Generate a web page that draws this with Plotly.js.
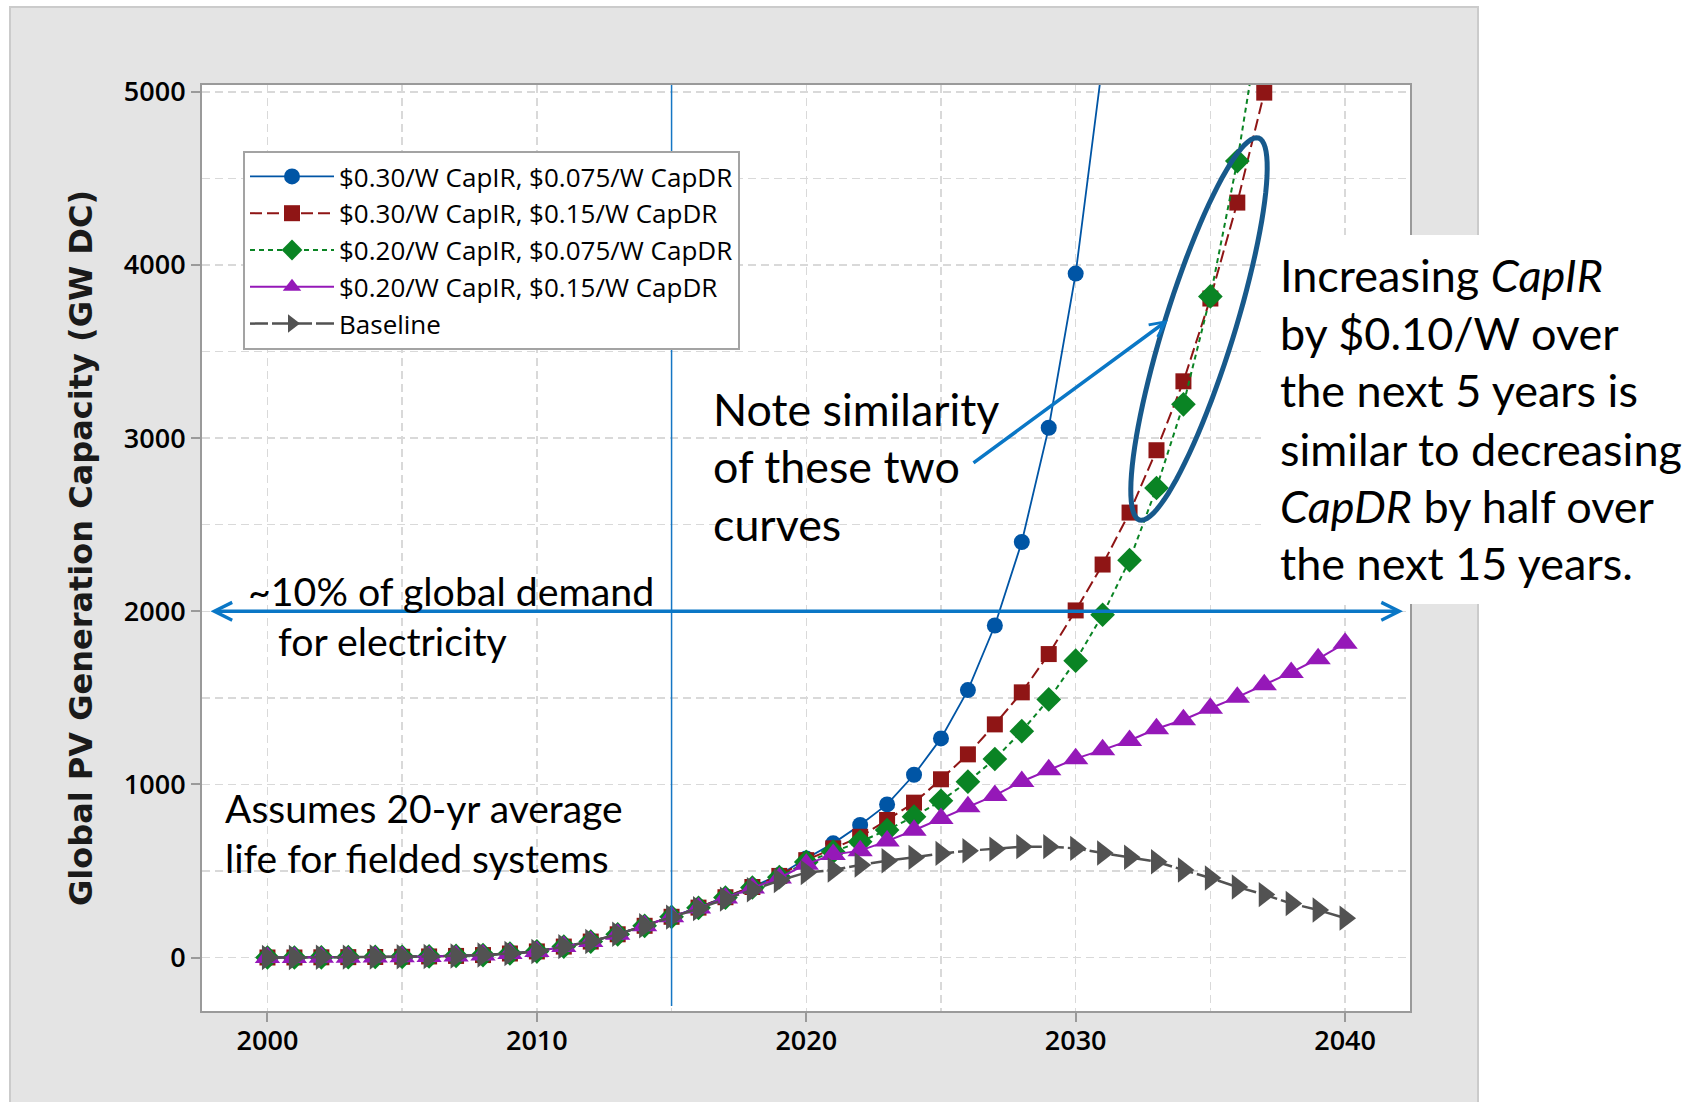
<!DOCTYPE html>
<html><head><meta charset="utf-8">
<script src="https://cdn.plot.ly/plotly-3.0.1.min.js"></script>
<style>html,body{margin:0;padding:0;background:#fff;} #chart{width:1691px;height:1102px;}</style>
</head><body><div id="chart"></div>
<script>
// ---- data (GW DC) ----
const years = [2000,2001,2002,2003,2004,2005,2006,2007,2008,2009,2010,2011,2012,2013,2014,2015,2016,2017,2018,2019,2020,
               2021,2022,2023,2024,2025,2026,2027,2028,2029,2030,2031,2032,2033,2034,2035,2036,2037,2038,2039,2040];
const ir30_dr075 = [1,1,2,3,4,5,7,10,15,24,36,64,93,135,184,236,290,350,410,477,573,
                    660,766,885,1056,1266,1545,1918,2400,3060,3950,5170];
const ir30_dr15  = [1,1,2,3,4,5,7,10,15,24,36,64,93,135,184,236,289,349,408,472,563,
                    631,698,795,895,1030,1174,1347,1532,1753,2005,2270,2570,2930,3328,3806,4360,4995];
const ir20_dr075 = [1,1,2,3,4,5,7,10,15,24,36,64,93,135,184,236,288,347,405,465,553,
                    612,669,737,814,906,1016,1147,1308,1491,1715,1980,2295,2712,3195,3818,4600,5565];
const ir20_dr15  = [1,1,2,3,4,5,7,10,15,24,36,64,93,135,184,236,287,345,402,460,540,
                    595,618,673,736,804,871,937,1017,1085,1149,1200,1254,1322,1374,1440,1504,1576,1647,1726,1816];
const baseline   = [1,1,2,3,4,5,7,10,15,24,36,64,93,135,184,234,283,338,392,445,492,
                    506,535,560,579,602,617,627,641,641,631,604,580,554,506,460,408,364,313,275,228];
const seriesNames = ['$0.30/W CapIR, $0.075/W CapDR','$0.30/W CapIR, $0.15/W CapDR',
                     '$0.20/W CapIR, $0.075/W CapDR','$0.20/W CapIR, $0.15/W CapDR','Baseline'];
const xTickVals = [2000,2010,2020,2030,2040];
const yTickVals = [0,1000,2000,3000,4000,5000];

// ---- geometry ----
const W=1691,H=1102,L=202,R=1410,T=85,B=1011;
const xRange=[1997.57,2042.41], yRange=[-308,5039];
const px2x = px => xRange[0]+(px-L)/(R-L)*(xRange[1]-xRange[0]);
const py2y = py => yRange[1]-(py-T)/(B-T)*(yRange[1]-yRange[0]);
const px2p = px => (px-L)/(R-L);
const py2p = py => (B-py)/(B-T);

const colors=['#0055a5','#8f1515','#0a8424','#9518b8','#525252'];
const styles=[
  {dash:'solid',width:1.8,symbol:'circle',size:16},
  {dash:'12px,5px',width:2,symbol:'square',size:16},
  {dash:'5px,4px',width:2,symbol:'diamond',size:19},
  {dash:'solid',width:2,symbol:'triangle-up',size:22},
  {dash:'18px,4px',width:2.5,symbol:'triangle-right',size:22}
];
const allY=[ir30_dr075,ir30_dr15,ir20_dr075,ir20_dr15,baseline];
const traces=allY.map((ys,i)=>({
  type:'scatter',mode:'lines+markers',name:seriesNames[i],
  x:years.slice(0,ys.length),y:ys,
  line:{color:colors[i],width:styles[i].width,dash:styles[i].dash},
  marker:{symbol:styles[i].symbol,size:styles[i].size,color:colors[i]},
  cliponaxis:true
}));

// ellipse (rotated) around the two similar curves
function ellipsePath(cx,cy,a,b,deg){
  const th=deg*Math.PI/180; let p='';
  for(let k=0;k<=96;k++){
    const t=2*Math.PI*k/96;
    const ex=cx+a*Math.cos(t)*Math.cos(th)-b*Math.sin(t)*Math.sin(th);
    const ey=cy-(a*Math.cos(t)*Math.sin(th)+b*Math.sin(t)*Math.cos(th));
    p+=(k?'L':'M')+px2x(ex).toFixed(4)+','+py2y(ey).toFixed(2);
  }
  return p+'Z';
}

const gridStyle={gridcolor:'#d9d9d9',gridwidth:1.5,griddash:'8px,5px'};
const tickFont={family:'Open Sans',size:27,color:'#000',weight:600};
const annFont=(s)=>({family:'Lato',size:s,color:'#000'});
function txt(s,px,py,size){
  return {xref:'paper',yref:'paper',x:px2p(px),y:py2p(py),xanchor:'left',yanchor:'middle',
          text:s,showarrow:false,font:annFont(size)};
}

const layout={
  width:W,height:H,margin:{l:L,r:W-R,t:T,b:H-B,pad:0},
  paper_bgcolor:'#ffffff',plot_bgcolor:'rgba(0,0,0,0)',
  showlegend:true,
  legend:{x:px2p(243),y:py2p(151),xanchor:'left',yanchor:'top',bgcolor:'#ffffff',
          bordercolor:'#a3a3a3',borderwidth:2,font:{family:'Open Sans',size:26,color:'#000'},
          itemwidth:84,tracegroupgap:0},
  xaxis:Object.assign({range:xRange,tickvals:xTickVals,ticks:'outside',ticklen:9,tickwidth:2,tickcolor:'#9a9a9a',
         showline:true,linecolor:'#9a9a9a',linewidth:2,mirror:true,showgrid:true,zeroline:false,
         tickfont:tickFont,ticklabelstandoff:-4,
         minor:Object.assign({dtick:5,tick0:2000,showgrid:true,ticks:''},gridStyle)},gridStyle),
  yaxis:Object.assign({range:yRange,tickvals:yTickVals,ticks:'outside',ticklen:9,tickwidth:2,tickcolor:'#9a9a9a',
         showline:true,linecolor:'#9a9a9a',linewidth:2,mirror:true,showgrid:true,zeroline:false,
         tickfont:tickFont,
         title:{text:'Global PV Generation Capacity (GW DC)',font:{family:'DejaVu Sans',size:32,weight:700,color:'#1a1a1a'},standoff:22},
         minor:Object.assign({dtick:500,tick0:0,showgrid:true,ticks:''},gridStyle)},gridStyle),
  shapes:[
    {type:'rect',xref:'paper',yref:'paper',x0:px2p(10),x1:px2p(1478),y0:py2p(1115),y1:py2p(7),
     fillcolor:'#e4e4e4',line:{color:'#cbcbcb',width:2},layer:'below'},
    {type:'rect',xref:'paper',yref:'paper',x0:0,x1:1,y0:0,y1:1,fillcolor:'#ffffff',line:{width:0},layer:'below'},
    {type:'line',xref:'x',yref:'y',x0:2015,x1:2015,y0:py2y(1006),y1:yRange[1],
     line:{color:'#1576c4',width:1.5},layer:'above'},
    {type:'rect',xref:'paper',yref:'paper',x0:px2p(1261),x1:px2p(1720),y0:py2p(604),y1:py2p(235),
     fillcolor:'#ffffff',line:{width:0},layer:'above'},
    {type:'path',xref:'x',yref:'y',path:ellipsePath(1199,329,200,35,72.7),
     line:{color:'#17598b',width:5},layer:'above'}
  ],
  annotations:[
    {xref:'x',yref:'y',axref:'x',ayref:'y',x:px2x(1403),y:2000,ax:px2x(209),ay:2000,text:'',
     showarrow:true,arrowside:'end+start',arrowhead:5,startarrowhead:5,arrowsize:1,startarrowsize:1,
     arrowwidth:3.5,arrowcolor:'#0a77c6',standoff:0,startstandoff:0},
    {xref:'x',yref:'y',axref:'x',ayref:'y',x:px2x(1168),y:py2y(320),ax:px2x(972),ay:py2y(464),text:'',
     showarrow:true,arrowhead:5,arrowsize:0.85,arrowwidth:3.5,arrowcolor:'#0a77c6',standoff:0},
    txt('Note similarity',711,408.7,44.8),
    txt('of these two',711,465.9,44.8),
    txt('curves',711,524,44.8),
    txt('~10% of global demand',246,590,39.3),
    txt('for electricity',276,640.6,39.3),
    txt('Assumes 20-yr average',223,807.7,39),
    txt('life for fielded systems',223,858.4,39),
    txt('Increasing <i>CapIR</i>',1278,275,45),
    txt('by $0.10/W over',1278,333,45),
    txt('the next 5 years is',1278,390.4,45),
    txt('similar to decreasing',1278,448.6,45),
    txt('<i>CapDR</i> by half over',1278,505.8,45),
    txt('the next 15 years.',1278,563,45)
  ]
};
Plotly.newPlot('chart',traces,layout,{displayModeBar:false,staticPlot:true});
</script>
</body></html>
